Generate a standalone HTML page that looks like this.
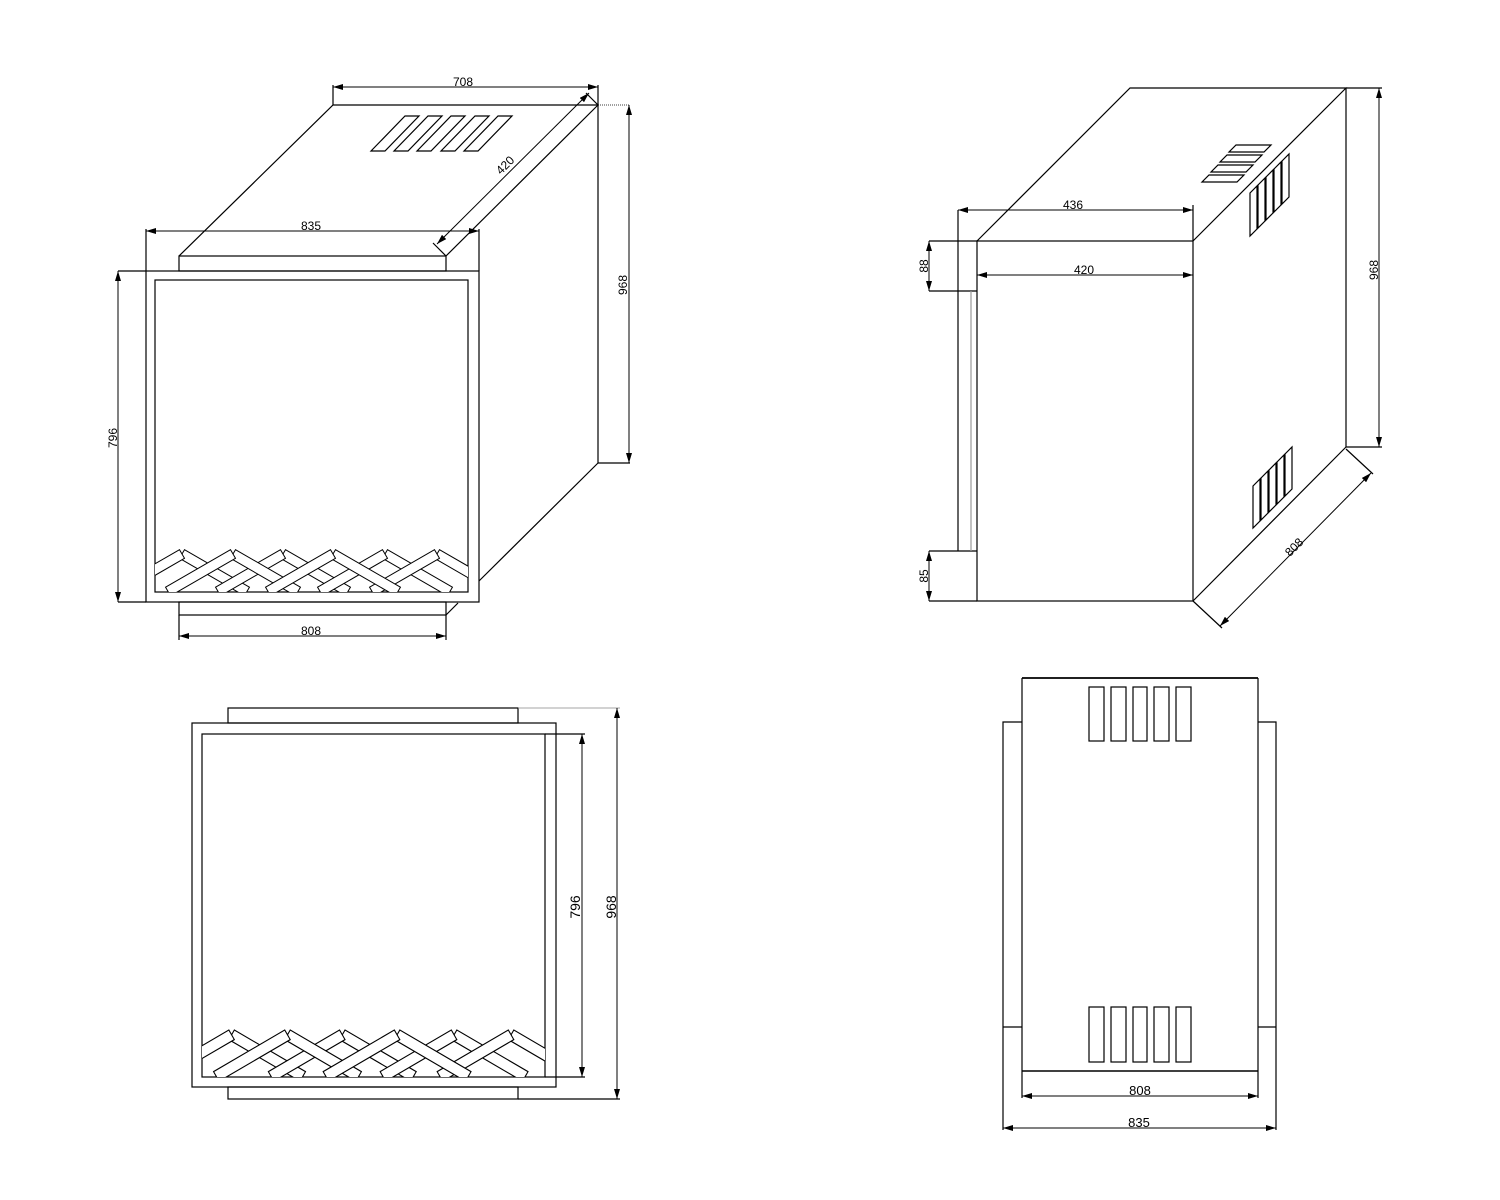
<!DOCTYPE html>
<html><head><meta charset="utf-8"><style>
html,body{margin:0;padding:0;background:#fff}
svg{display:block}
text{font-family:"Liberation Sans",sans-serif;font-size:12px;fill:#000}
</style></head><body>
<svg width="1500" height="1200" viewBox="0 0 1500 1200" xmlns="http://www.w3.org/2000/svg">
<defs>
<marker id="a" viewBox="0 0 10 6" refX="10" refY="3" markerWidth="10" markerHeight="6" orient="auto-start-reverse" markerUnits="userSpaceOnUse"><path d="M0,0 L10,3 L0,6 z" fill="#000"/></marker>
<g id="logs" fill="#fff" stroke="#000" stroke-width="1">
 <g transform="translate(27,-38)"><rect x="0" y="-5" width="75" height="10" transform="rotate(30)"/><rect x="0" y="-5" width="75" height="10" transform="rotate(150)"/></g>
 <g transform="translate(128,-38)"><rect x="0" y="-5" width="75" height="10" transform="rotate(30)"/><rect x="0" y="-5" width="75" height="10" transform="rotate(150)"/></g>
 <g transform="translate(230,-38)"><rect x="0" y="-5" width="75" height="10" transform="rotate(30)"/><rect x="0" y="-5" width="75" height="10" transform="rotate(150)"/></g>
 <g transform="translate(282,-38)"><rect x="0" y="-5" width="75" height="10" transform="rotate(30)"/><rect x="0" y="-5" width="75" height="10" transform="rotate(150)"/></g>
 <g transform="translate(78,-38)"><rect x="0" y="-5" width="75" height="10" transform="rotate(30)"/><rect x="0" y="-5" width="75" height="10" transform="rotate(150)"/></g>
 <g transform="translate(178,-38)"><rect x="0" y="-5" width="75" height="10" transform="rotate(30)"/><rect x="0" y="-5" width="75" height="10" transform="rotate(150)"/></g>
</g>
<clipPath id="c1"><rect x="155" y="545" width="313" height="47"/></clipPath>
<clipPath id="c2"><rect x="202" y="1025" width="343" height="52"/></clipPath>
</defs>

<g fill="none" stroke="#000" stroke-width="1.2">
<!-- ============ TOP LEFT VIEW ============ -->
<rect x="146" y="271" width="333" height="331"/>
<rect x="155" y="280" width="313" height="312"/>
<rect x="179" y="256" width="267" height="15"/>
<rect x="179" y="602" width="267" height="13"/>
<polyline points="179,256 333,105 598,105 598,463"/>
<line x1="598" y1="105" x2="446" y2="256"/>
<line x1="479" y1="581" x2="598" y2="463"/>
<line x1="446" y1="615" x2="458" y2="603"/>
<line x1="598" y1="463" x2="630" y2="463"/>
<line x1="598" y1="105" x2="630" y2="105" stroke-dasharray="1,1" stroke-width="0.8"/>
<!-- vents -->
<polygon points="405,116 419,116 385,151 371,151"/>
<polygon points="428,116 442,116 408,151 394,151"/>
<polygon points="451,116 465,116 431,151 417,151"/>
<polygon points="475,116 489,116 455,151 441,151"/>
<polygon points="498,116 512,116 478,151 464,151"/>
<!-- dims -->
<line x1="333" y1="85" x2="333" y2="105"/>
<line x1="598" y1="85" x2="598" y2="105"/>
<line x1="333" y1="87" x2="598" y2="87" marker-start="url(#a)" marker-end="url(#a)" stroke-width="1"/>
<line x1="146" y1="229" x2="146" y2="271"/>
<line x1="479" y1="229" x2="479" y2="271"/>
<line x1="146" y1="231" x2="479" y2="231" marker-start="url(#a)" marker-end="url(#a)" stroke-width="1"/>
<line x1="118" y1="271" x2="146" y2="271"/>
<line x1="118" y1="602" x2="146" y2="602"/>
<line x1="118" y1="271" x2="118" y2="602" marker-start="url(#a)" marker-end="url(#a)" stroke-width="1"/>
<line x1="629" y1="105" x2="629" y2="463" marker-start="url(#a)" marker-end="url(#a)" stroke-width="1"/>
<line x1="179" y1="615" x2="179" y2="640"/>
<line x1="446" y1="615" x2="446" y2="640"/>
<line x1="179" y1="636" x2="446" y2="636" marker-start="url(#a)" marker-end="url(#a)" stroke-width="1"/>
<line x1="586" y1="93" x2="598" y2="105"/>
<line x1="433" y1="243" x2="446" y2="256"/>
<line x1="589" y1="93" x2="437" y2="244" marker-start="url(#a)" marker-end="url(#a)" stroke-width="1"/>
</g>
<g clip-path="url(#c1)"><use href="#logs" transform="translate(155,592)"/></g>
<text x="463" y="86" text-anchor="middle">708</text>
<text x="311" y="230" text-anchor="middle">835</text>
<text x="311" y="635" text-anchor="middle">808</text>
<text transform="translate(117,438) rotate(-90)" text-anchor="middle">796</text>
<text transform="translate(627,285) rotate(-90)" text-anchor="middle">968</text>
<text transform="translate(508,168) rotate(-45)" text-anchor="middle">420</text>

<!-- ============ TOP RIGHT VIEW ============ -->
<g fill="none" stroke="#000" stroke-width="1.2">
<rect x="977" y="241" width="216" height="360"/>
<polyline points="977,241 1130,88 1346,88 1193,241"/>
<line x1="1346" y1="88" x2="1346" y2="447"/>
<line x1="1193" y1="601" x2="1346" y2="447"/>
<line x1="958" y1="210" x2="958" y2="551"/>
<line x1="929" y1="241" x2="977" y2="241"/>
<line x1="929" y1="291" x2="977" y2="291"/>
<line x1="929" y1="551" x2="977" y2="551"/>
<line x1="929" y1="601" x2="977" y2="601"/>
<line x1="971" y1="291" x2="971" y2="551" stroke="#999"/>
<line x1="1193" y1="205" x2="1193" y2="241"/>
<line x1="958" y1="210" x2="1193" y2="210" marker-start="url(#a)" marker-end="url(#a)" stroke-width="1"/>
<line x1="977" y1="275" x2="1193" y2="275" marker-start="url(#a)" marker-end="url(#a)" stroke-width="1"/>
<line x1="929" y1="241" x2="929" y2="291" marker-start="url(#a)" marker-end="url(#a)" stroke-width="1"/>
<line x1="929" y1="551" x2="929" y2="601" marker-start="url(#a)" marker-end="url(#a)" stroke-width="1"/>
<line x1="1346" y1="88" x2="1382" y2="88"/>
<line x1="1346" y1="447" x2="1382" y2="447"/>
<line x1="1379" y1="88" x2="1379" y2="447" marker-start="url(#a)" marker-end="url(#a)" stroke-width="1"/>
<line x1="1193" y1="601" x2="1222" y2="628"/>
<line x1="1346" y1="449" x2="1373" y2="474"/>
<line x1="1220" y1="626" x2="1371" y2="473" marker-start="url(#a)" marker-end="url(#a)" stroke-width="1"/>
<!-- top vents -->
<polygon points="1236,145 1271,145 1264,152 1229,152"/>
<polygon points="1227,155 1262,155 1255,162 1220,162"/>
<polygon points="1218,165 1253,165 1246,172 1211,172"/>
<polygon points="1209,175 1244,175 1237,182 1202,182"/>
<!-- side vents upper -->
<polygon points="1250,193 1257,186 1257,229 1250,236"/>
<polygon points="1258,185 1265,178 1265,221 1258,228"/>
<polygon points="1266,177 1273,170 1273,213 1266,220"/>
<polygon points="1274,169 1281,162 1281,205 1274,212"/>
<polygon points="1282,161 1289,154 1289,197 1282,204"/>
<!-- side vents lower -->
<polygon points="1253,486 1260,479 1260,521 1253,528"/>
<polygon points="1261,478 1268,471 1268,513 1261,520"/>
<polygon points="1269,470 1276,463 1276,505 1269,512"/>
<polygon points="1277,462 1284,455 1284,497 1277,504"/>
<polygon points="1285,454 1292,447 1292,489 1285,496"/>
</g>
<text x="1073" y="209" text-anchor="middle">436</text>
<text x="1084" y="274" text-anchor="middle">420</text>
<text transform="translate(928,266) rotate(-90)" text-anchor="middle">88</text>
<text transform="translate(928,576) rotate(-90)" text-anchor="middle">85</text>
<text transform="translate(1378,270) rotate(-90)" text-anchor="middle">968</text>
<text transform="translate(1297,550) rotate(-45)" text-anchor="middle">808</text>

<!-- ============ BOTTOM LEFT VIEW ============ -->
<g fill="none" stroke="#000" stroke-width="1.2">
<rect x="192" y="723" width="364" height="364"/>
<rect x="202" y="734" width="343" height="343"/>
<rect x="228" y="708" width="290" height="15"/>
<rect x="228" y="1087" width="290" height="12"/>
<line x1="545" y1="734" x2="585" y2="734"/>
<line x1="545" y1="1077" x2="585" y2="1077"/>
<line x1="518" y1="708" x2="620" y2="708" stroke="#888" stroke-width="0.8"/>
<line x1="518" y1="1099" x2="620" y2="1099"/>
<line x1="582" y1="734" x2="582" y2="1077" marker-start="url(#a)" marker-end="url(#a)" stroke-width="1"/>
<line x1="617" y1="708" x2="617" y2="1099" marker-start="url(#a)" marker-end="url(#a)" stroke-width="1"/>
</g>
<g clip-path="url(#c2)"><use href="#logs" transform="translate(202,1077) scale(1.096,1.11)"/></g>
<text transform="translate(580,907) rotate(-90)" text-anchor="middle" font-size="14" style="font-size:14px">796</text>
<text transform="translate(616,907) rotate(-90)" text-anchor="middle" style="font-size:14px">968</text>

<!-- ============ BOTTOM RIGHT VIEW ============ -->
<g fill="none" stroke="#000" stroke-width="1.2">
<line x1="1022" y1="678" x2="1258" y2="678" stroke-width="1.8"/>
<line x1="1022" y1="678" x2="1022" y2="1098"/>
<line x1="1258" y1="678" x2="1258" y2="1098"/>
<line x1="1022" y1="1071" x2="1258" y2="1071" stroke-width="1.6"/>
<polyline points="1022,722 1003,722 1003,1130"/>
<line x1="1003" y1="1027" x2="1022" y2="1027"/>
<polyline points="1258,722 1276,722 1276,1130"/>
<line x1="1258" y1="1027" x2="1276" y2="1027"/>
<rect x="1089" y="687" width="15" height="54"/>
<rect x="1111" y="687" width="15" height="54"/>
<rect x="1133" y="687" width="14" height="54"/>
<rect x="1154" y="687" width="15" height="54"/>
<rect x="1176" y="687" width="15" height="54"/>
<rect x="1089" y="1007" width="15" height="55"/>
<rect x="1111" y="1007" width="15" height="55"/>
<rect x="1133" y="1007" width="14" height="55"/>
<rect x="1154" y="1007" width="15" height="55"/>
<rect x="1176" y="1007" width="15" height="55"/>
<line x1="1022" y1="1096" x2="1258" y2="1096" marker-start="url(#a)" marker-end="url(#a)" stroke-width="1"/>
<line x1="1003" y1="1128" x2="1276" y2="1128" marker-start="url(#a)" marker-end="url(#a)" stroke-width="1"/>
</g>
<text x="1140" y="1095" text-anchor="middle" style="font-size:13px">808</text>
<text x="1139" y="1127" text-anchor="middle" style="font-size:13px">835</text>
</svg>
</body></html>
